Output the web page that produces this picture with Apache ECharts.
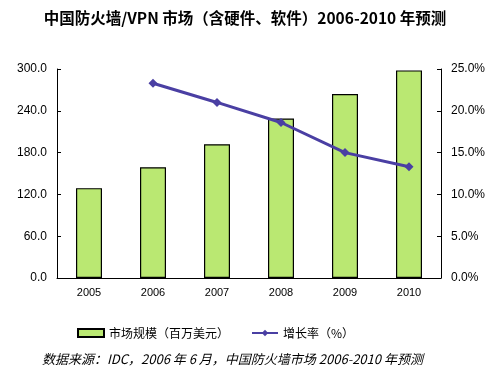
<!DOCTYPE html>
<html><head><meta charset="utf-8">
<script src="https://cdn.jsdelivr.net/npm/echarts@6/dist/echarts.min.js"></script>
<style>html,body{margin:0;padding:0;background:#fff}#c{width:497px;height:391px}</style>
</head><body><div id="c"></div>
<script>
const categories = ['2005','2006','2007','2008','2009','2010'];
const marketSize = [129, 159, 192, 229, 264, 298];
const growthRate = [null, 23.3, 21.0, 18.6, 15.0, 13.3];
const leftTicks = [0, 60, 120, 180, 240, 300];
const rightTicks = [0, 5, 10, 15, 20, 25];

const chart = echarts.init(document.getElementById('c'));
chart.setOption({
  animation: false,
  backgroundColor: '#fff',
  title: {
    text: '中国防火墙/VPN 市场（含硬件、软件）2006-2010 年预测',
    left: 240, textAlign: 'center', top: 5,
    textStyle: {fontFamily: 'Noto Sans CJK SC', fontWeight: 'bold', fontSize: 15.5, color: '#000'}
  },
  grid: {left: 57, right: 56, top: 69, bottom: 113},
  legend: {
    left: 72, top: 322, itemGap: 22, itemWidth: 26, itemHeight: 8,
    textStyle: {fontFamily: 'Noto Sans CJK SC', fontSize: 12, color: '#000'},
    data: [
      {name: '市场规模（百万美元）', icon: 'rect'},
      {name: '增长率（%）'}
    ]
  },
  xAxis: {
    type: 'category', data: categories,
    axisLine: {lineStyle: {color: '#000', width: 1}},
    axisTick: {show: false},
    axisLabel: {color: '#000', fontFamily: 'Liberation Sans', fontSize: 11, margin: 9}
  },
  yAxis: [
    {type: 'value', min: leftTicks[0], max: leftTicks[leftTicks.length-1], interval: 60,
     axisLine: {show: true, lineStyle: {color: '#000'}},
     axisTick: {show: true, inside: true, length: 4, lineStyle: {color: '#000'}},
     splitLine: {show: false},
     axisLabel: {color: '#000', fontFamily: 'Liberation Sans', fontSize: 12, margin: 10,
       formatter: v => v.toFixed(1)}},
    {type: 'value', min: rightTicks[0], max: rightTicks[rightTicks.length-1], interval: 5,
     position: 'right',
     axisLine: {show: true, lineStyle: {color: '#000'}},
     axisTick: {show: true, inside: true, length: 4, lineStyle: {color: '#000'}},
     splitLine: {show: false},
     axisLabel: {color: '#000', fontFamily: 'Liberation Sans', fontSize: 12, margin: 10,
       formatter: v => v.toFixed(1) + '%'}}
  ],
  series: [
    {name: '市场规模（百万美元）', type: 'bar', data: marketSize, barWidth: 26,
     itemStyle: {color: '#BAE872', borderColor: '#000', borderWidth: 1.2}},
    {name: '增长率（%）', type: 'line', yAxisIndex: 1, data: growthRate,
     symbol: 'diamond', symbolSize: 9, showSymbol: true,
     lineStyle: {color: '#4A3FA3', width: 3},
     itemStyle: {color: '#4A3FA3'}}
  ],
  graphic: [{
    type: 'text', left: 42, top: 353,
    style: {text: '数据来源：IDC，2006 年 6 月，中国防火墙市场 2006-2010 年预测',
      fontFamily: 'Noto Sans CJK SC', fontStyle: 'italic', fontSize: 13, fill: '#000'}
  }]
});
</script></body></html>
